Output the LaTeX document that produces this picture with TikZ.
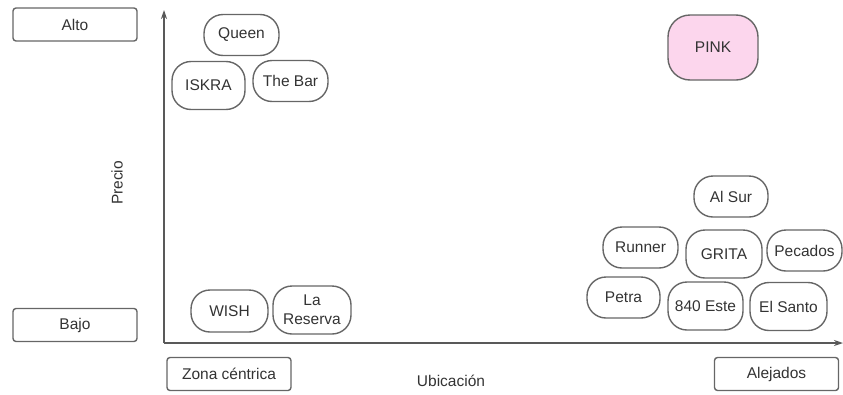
\documentclass[tikz,border=0pt]{standalone}
\usepackage{fontspec}
\setmainfont{Liberation Sans}
\usepackage{tikz}
\usetikzlibrary{arrows.meta}

\begin{document}
\begin{tikzpicture}[x = 1pt, y = -1pt, line width = 1.4pt,
                      every node/.style = {text = black!80, font = \fontsize{15.5}{16}\selectfont},
                      tag/.style = {draw = black!60, rounded corners = 3pt, minimum width = 124pt, minimum height = 33pt, inner sep = 0pt},
                      venue/.style = {draw = black!60, rounded corners = 19pt, minimum width = 75pt, minimum height = 41pt, inner sep = 0pt},
                      tall/.style = {minimum height = 48pt},
                      axis/.style = {draw = black!65, line width = 1.2pt, -{Stealth[length = 9pt, width = 6pt]}}]
    \useasboundingbox (0, 0) rectangle (843, 394);
    % axes
    \coordinate (o) at (164, 343);
    \coordinate (ytip) at (164, 10);
    \coordinate (xtip) at (843, 343);
    \draw [axis] (o) -- (ytip);
    \draw [axis] (o) -- (xtip);
    \node (precio) at (117, 183) [rotate = 90] {Precio};
    \node (ubic) at (451, 381) {Ubicación};
    % scale tags
    \node [tag] (alto) at (75, 24.5){Alto};
    \node [tag] (bajo) at (75, 325){Bajo};
    \node [tag] (centro) at (229, 374){Zona céntrica};
    \node [tag] (lejos) at (776.5, 374){Alejados};
    % places
    \node [venue] (queen) at (241.5, 35){Queen};
    \node [venue, tall, minimum width = 73pt] (iskra) at (208.5, 85.5){ISKRA};
    \node [venue] (thebar) at (290.5, 81){The Bar};
    \node [venue, minimum width = 90pt, minimum height = 65pt, fill = magenta!16, rounded corners = 22pt] (pink) at (713, 47.5){PINK};
    \node [venue, minimum width = 74pt] (alsur) at (731, 196.5){Al Sur};
    \node [venue] (runner) at (640.5, 247.5){Runner};
    \node [venue, tall, minimum width = 76pt] (grita) at (724, 254){GRITA};
    \node [venue] (pecados) at (804.5, 250.5){Pecados};
    \node [venue, minimum width = 73pt] (petra) at (623.5, 297.5){Petra};
    \node [venue, tall] (este) at (705.5, 306){840 Este};
    \node [venue, tall, minimum width = 77pt] (santo) at (788.5, 306.5){El Santo};
    \node [venue, minimum width = 77pt, minimum height = 42pt] (wish) at (229.5, 311){WISH};
    \node [venue, tall, minimum width = 78pt, align = center, font = \fontsize{15.5}{19}\selectfont] (reserva) at (312, 310){La\\Reserva};
\end{tikzpicture}
\end{document}
